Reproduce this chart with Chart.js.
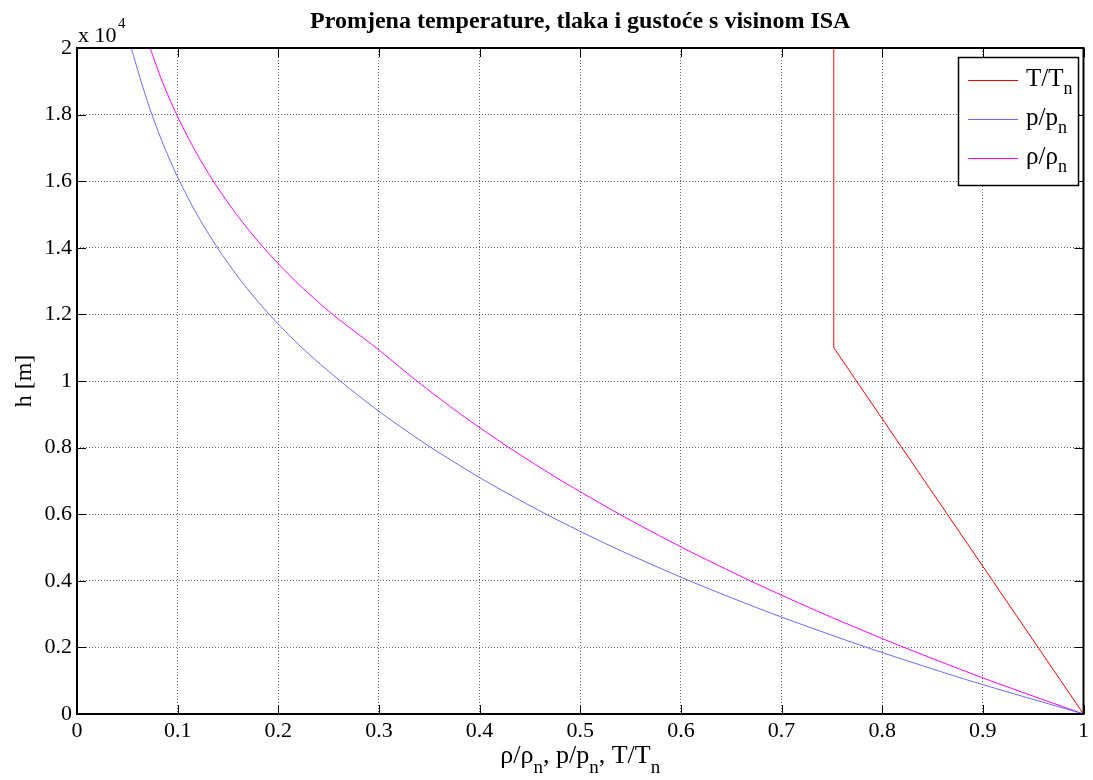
<!DOCTYPE html>
<html>
<head>
<meta charset="utf-8">
<script src="https://cdn.jsdelivr.net/npm/chart.js@4.4.1/dist/chart.umd.min.js"></script>
<style>
html,body{margin:0;padding:0;background:#fff;}
#wrap{width:1093px;height:780px;position:relative;}
</style>
</head>
<body>
<div id="wrap"><canvas id="c" width="1093" height="780"></canvas></div>
<script>
// Altitude [m]
const heights = [0,1000,2000,3000,4000,5000,6000,7000,8000,9000,10000,11000,12000,13000,14000,15000,16000,17000,18000,19000,20000];
// T/Tn
const tempRatio = [1.0000,0.9774,0.9549,0.9323,0.9098,0.8872,0.8647,0.8421,0.8195,0.7970,0.7744,0.7519,0.7519,0.7519,0.7519,0.7519,0.7519,0.7519,0.7519,0.7519,0.7519];
// p/pn
const pressureRatio = [1.0000,0.8870,0.7846,0.6920,0.6085,0.5334,0.4660,0.4057,0.3519,0.3040,0.2615,0.2234,0.1909,0.1632,0.1395,0.1192,0.1019,0.0871,0.0744,0.0636,0.0540];
// rho/rhon
const densityRatio = [1.0000,0.9075,0.8217,0.7423,0.6689,0.6012,0.5389,0.4817,0.4292,0.3813,0.3376,0.2971,0.2539,0.2170,0.1855,0.1585,0.1355,0.1158,0.0990,0.0846,0.0726];

const xTickLabels = ['0','0.1','0.2','0.3','0.4','0.5','0.6','0.7','0.8','0.9','1'];
const yTickLabels = ['0','0.2','0.4','0.6','0.8','1','1.2','1.4','1.6','1.8','2'];

const titleText = 'Promjena temperature, tlaka i gustoće s visinom ISA';
const yTitle = 'h [m]';
const seriesNames = [
  [{t:'T/T'},{t:'n',sub:true}],
  [{t:'p/p'},{t:'n',sub:true}],
  [{t:'ρ/ρ'},{t:'n',sub:true}]
];
const xTitleParts = [{t:'ρ/ρ'},{t:'n',sub:true},{t:', p/p'},{t:'n',sub:true},{t:', T/T'},{t:'n',sub:true}];

const colors = ['#ff0000','#6a6aff','#ff00ff'];
const FONT = '"Liberation Serif","Times New Roman",serif';

function pts(vals){ return vals.map((v,i)=>({x:v,y:heights[i]})); }

function drawRich(ctx, parts, x, y, size, subSize, subOff, align){
  let total = 0;
  const widths = parts.map(p=>{
    ctx.font = (p.sub?subSize:size)+'px '+FONT;
    const w = ctx.measureText(p.t).width; total += w; return w;
  });
  let cx = align==='center' ? x-total/2 : (align==='right'? x-total : x);
  ctx.textAlign='left'; ctx.textBaseline='alphabetic';
  parts.forEach((p,i)=>{
    ctx.font = (p.sub?subSize:size)+'px '+FONT;
    ctx.fillText(p.t, cx, p.sub ? y+subOff : y);
    cx += widths[i];
  });
}

const decor = {
  id:'decor',
  afterDraw(chart){
    const ctx = chart.ctx, a = chart.chartArea;
    const xs = chart.scales.x, ys = chart.scales.y;
    ctx.save();
    ctx.fillStyle='#000'; ctx.strokeStyle='#000';
    // box
    ctx.lineWidth=2;
    ctx.strokeRect(a.left, a.top, a.right-a.left, a.bottom-a.top);
    // inward ticks
    ctx.lineWidth=1;
    ctx.beginPath();
    xs.ticks.forEach(t=>{
      const px = Math.round(xs.getPixelForValue(t.value))+0.5;
      ctx.moveTo(px,a.bottom); ctx.lineTo(px,a.bottom-9);
      ctx.moveTo(px,a.top); ctx.lineTo(px,a.top+9);
    });
    ys.ticks.forEach(t=>{
      const py = Math.round(ys.getPixelForValue(t.value))+0.5;
      ctx.moveTo(a.left,py); ctx.lineTo(a.left+9,py);
      ctx.moveTo(a.right,py); ctx.lineTo(a.right-9,py);
    });
    ctx.stroke();
    // title
    ctx.font='bold 24px '+FONT; ctx.textAlign='center'; ctx.textBaseline='alphabetic';
    ctx.fillText(titleText,(a.left+a.right)/2,28);
    // exponent label
    ctx.font='22px '+FONT; ctx.textAlign='left';
    ctx.fillText('x 10',78,42);
    ctx.font='15px '+FONT;
    ctx.fillText('4',118,28);
    // y title
    ctx.save();
    ctx.translate(25,(a.top+a.bottom)/2);
    ctx.rotate(-Math.PI/2);
    ctx.font='24px '+FONT; ctx.textAlign='center'; ctx.textBaseline='middle';
    ctx.fillText(yTitle,0,0);
    ctx.restore();
    // x title
    drawRich(ctx,xTitleParts,(a.left+a.right)/2,763,26,19,10,'center');
    // legend
    const lx=958, ly=57, lw=120, lh=128;
    ctx.fillStyle='#fff';
    ctx.fillRect(lx,ly,lw,lh);
    ctx.strokeStyle='#000'; ctx.lineWidth=1.5;
    ctx.strokeRect(lx+0.5,ly+0.5,lw,lh);
    const rows=[80,119,158];
    chart.data.datasets.forEach((ds,i)=>{
      ctx.strokeStyle=ds.borderColor; ctx.lineWidth=1;
      ctx.beginPath(); ctx.moveTo(968,rows[i]+0.5); ctx.lineTo(1018,rows[i]+0.5); ctx.stroke();
      ctx.fillStyle='#000';
      drawRich(ctx,seriesNames[i],1026,rows[i]+6,25,18,8,'left');
    });
    ctx.restore();
  }
};

new Chart(document.getElementById('c'),{
  type:'scatter',
  data:{
    datasets:[
      {label:'T/Tn',data:pts(tempRatio),borderColor:colors[0],showLine:true,pointRadius:0,borderWidth:1,tension:0},
      {label:'p/pn',data:pts(pressureRatio),borderColor:colors[1],showLine:true,pointRadius:0,borderWidth:1,tension:0.25},
      {label:'ρ/ρn',data:pts(densityRatio),borderColor:colors[2],showLine:true,pointRadius:0,borderWidth:1,tension:0.25}
    ]
  },
  options:{
    responsive:false,
    animation:false,
    layout:{padding:{left:0,right:8,top:48,bottom:0}},
    plugins:{legend:{display:false},title:{display:false},tooltip:{enabled:false}},
    scales:{
      x:{
        type:'linear',min:0,max:1,
        afterBuildTicks(s){ s.ticks = xTickLabels.map((l,i)=>({value:i/10})); },
        afterFit(s){ s.height = 66; },
        ticks:{callback:(v,i)=>xTickLabels[i],color:'#000',font:{family:FONT,size:22},padding:4,maxRotation:0,autoSkip:false},
        grid:{color:'rgba(0,0,0,0.6)',lineWidth:1,drawTicks:false},
        border:{display:false,dash:[1,2]}
      },
      y:{
        type:'linear',min:0,max:20000,
        afterBuildTicks(s){ s.ticks = yTickLabels.map((l,i)=>({value:i*2000})); },
        afterFit(s){ s.width = 77; },
        ticks:{callback:(v,i)=>yTickLabels[i],color:'#000',font:{family:FONT,size:22},padding:5,autoSkip:false},
        grid:{color:'rgba(0,0,0,0.6)',lineWidth:1,drawTicks:false},
        border:{display:false,dash:[1,2]}
      }
    }
  },
  plugins:[decor]
});
</script>
</body>
</html>
